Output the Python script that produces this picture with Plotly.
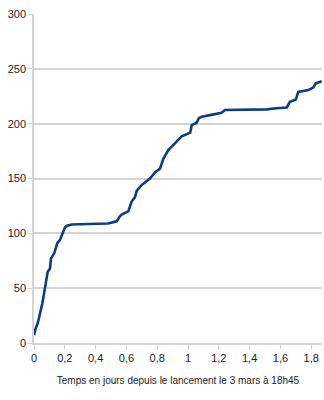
import plotly.graph_objects as go

days = [0, 0.01, 0.024, 0.04, 0.054, 0.065, 0.076, 0.089, 0.104, 0.11, 0.132, 0.151, 0.169,
        0.186, 0.2, 0.215, 0.245, 0.3, 0.4, 0.48, 0.51, 0.537, 0.555, 0.569, 0.612, 0.634,
        0.656, 0.667, 0.699, 0.742, 0.753, 0.786, 0.818, 0.84, 0.851, 0.872, 0.894, 0.926,
        0.959, 1.002, 1.015, 1.024, 1.056, 1.07, 1.089, 1.143, 1.218, 1.24, 1.35, 1.511,
        1.576, 1.641, 1.662, 1.684, 1.7, 1.716, 1.781, 1.814, 1.829, 1.868]
count = [7, 13, 18, 27, 36, 45, 55, 65, 68, 77, 82, 91, 94,
         101, 105, 107, 108, 108.3, 108.6, 109, 110, 111, 115, 117, 120, 129,
         133, 139, 144, 148.6, 150, 155.5, 159, 168, 171, 176, 179, 183.5,
         188.5, 191, 192, 198.7, 200.8, 205, 206.3, 207.8, 210, 212.4, 212.6, 213,
         214, 214.8, 220, 221.5, 222, 229, 230.6, 233, 236.7, 238.6]

x_title = "Temps en jours depuis le lancement le 3 mars à 18h45"

fig = go.Figure()
fig.add_trace(go.Scatter(x=days, y=count, mode="lines",
                         line=dict(color="#0b3d84", width=2.6), showlegend=False))

grid = "#d4d4d4"
fig.update_layout(
    width=324, height=400,
    margin=dict(l=34, r=2, t=14, b=57),
    paper_bgcolor="white", plot_bgcolor="white",
    separators=", ",
    font=dict(family="Liberation Sans, Arial, sans-serif", size=11, color="#222222"),
    xaxis=dict(range=[0, 1.87], dtick=0.2, tick0=0, showgrid=False,
               showline=True, linecolor=grid, linewidth=1.5,
               ticks="outside", ticklen=4, tickcolor=grid, zeroline=False,
               title=dict(text=x_title, font=dict(size=10), standoff=14)),
    yaxis=dict(range=[0, 300], dtick=50, showgrid=True, gridcolor=grid, gridwidth=1.5,
               showline=True, linecolor=grid, linewidth=1.5,
               ticks="outside", ticklen=4, tickcolor=grid, zeroline=False),
)
fig.write_html("out.html")
